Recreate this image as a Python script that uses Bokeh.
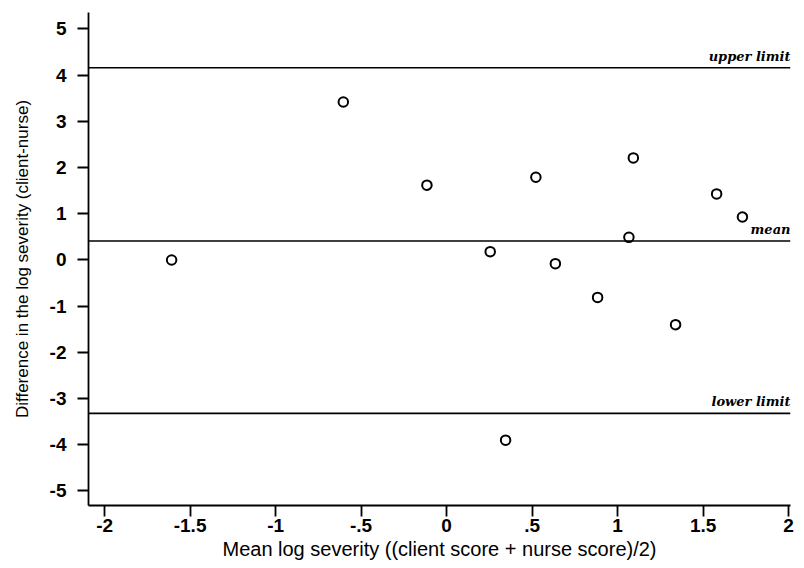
from bokeh.plotting import figure
from bokeh.models import Range1d, FixedTicker, Span, ColumnDataSource
from bokeh.core.properties import value
from bokeh.embed import file_html
from bokeh.resources import INLINE

# data
mean_score = [-1.608, -0.604, -0.115, 0.255, 0.345, 0.522, 0.636, 0.883, 1.066, 1.092, 1.339, 1.579, 1.730]
difference = [0.00, 3.42, 1.62, 0.18, -3.90, 1.79, -0.08, -0.81, 0.49, 2.21, -1.40, 1.43, 0.93]

limit_names = ["upper limit", "mean", "lower limit"]
limit_values = [4.16, 0.41, -3.32]

x_ticks = [-2, -1.5, -1, -0.5, 0, 0.5, 1, 1.5, 2]
x_tick_labels = ["-2", "-1.5", "-1", "-.5", "0", ".5", "1", "1.5", "2"]
y_ticks = [-5, -4, -3, -2, -1, 0, 1, 2, 3, 4, 5]
y_tick_labels = ["-5", "-4", "-3", "-2", "-1", "0", "1", "2", "3", "4", "5"]

X0, X1 = -2.094, 2.011
Y0, Y1 = -5.314, 5.357

p = figure(width=794, height=564, output_backend="svg", toolbar_location=None,
           x_range=Range1d(X0, X1), y_range=Range1d(Y0, Y1),
           min_border_left=88, min_border_right=4, min_border_top=12, min_border_bottom=59)
p.outline_line_color = None
p.grid.visible = False
p.background_fill_color = "white"
p.border_fill_color = "white"

for ax in (p.xaxis[0], p.yaxis[0]):
    ax.axis_line_width = 1.8
    ax.axis_line_color = "black"
    ax.major_tick_line_width = 1.8
    ax.major_tick_line_color = "black"
    ax.major_tick_in = 0
    ax.major_tick_out = 11
    ax.minor_tick_line_color = None
    ax.major_label_text_font = "Liberation Sans"
    ax.major_label_text_font_style = "bold"
    ax.major_label_text_font_size = "19px"
    ax.major_label_text_color = "black"
    ax.axis_label_text_font = "Liberation Sans"
    ax.axis_label_text_font_style = "normal"
    ax.axis_label_text_color = "black"

p.xaxis.axis_label_text_font_size = "20px"
p.yaxis.axis_label_text_font_size = "17px"
p.xaxis.ticker = FixedTicker(ticks=x_ticks)
p.xaxis.major_label_overrides = {t: l for t, l in zip(x_ticks, x_tick_labels)}
p.yaxis.ticker = FixedTicker(ticks=y_ticks)
p.yaxis.major_label_overrides = {t: l for t, l in zip(y_ticks, y_tick_labels)}
p.xaxis.axis_label = "Mean log severity ((client score + nurse score)/2)"
p.yaxis.axis_label = "Difference in the log severity (client-nurse)"
p.xaxis.major_label_standoff = 2
p.xaxis.axis_label_standoff = 3
p.yaxis.major_label_standoff = 11
p.yaxis.axis_label_standoff = 15

for v in limit_values:
    p.add_layout(Span(location=v, dimension="width", line_color="black", line_width=1.6))

lab = ColumnDataSource(dict(x=[X1] * len(limit_values), y=limit_values, t=limit_names))
p.text(x="x", y="y", text="t", source=lab, text_align="right", text_baseline="bottom",
       y_offset=-4, text_font=value("DejaVu Serif"), text_font_style="bold italic",
       text_font_size="13px", text_color="black")

src = ColumnDataSource(dict(x=mean_score, y=difference))
p.scatter(x="x", y="y", source=src, marker="circle", size=9.5, fill_color=None,
          line_color="black", line_width=2)

open("out.html", "w").write(file_html(p, INLINE))
